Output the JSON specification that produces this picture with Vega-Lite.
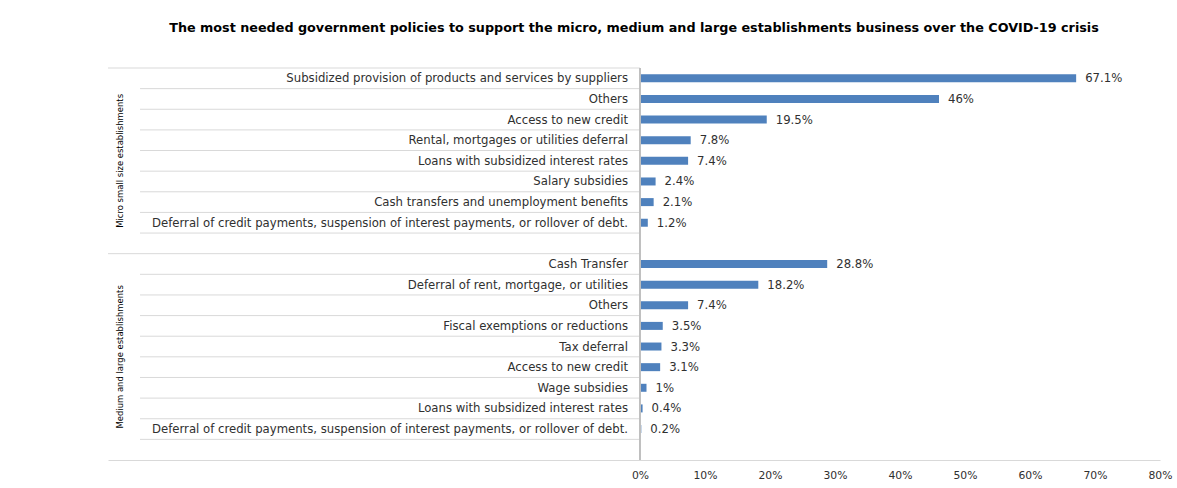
{
  "$schema": "https://vega.github.io/schema/vega-lite/v6.json",
  "width": 1052,
  "height": 392,
  "autosize": {"type": "none"},
  "padding": {"left": 108, "top": 68, "right": 17, "bottom": 28},
  "background": "white",
  "title": {
    "text": "The most needed government policies to support the micro, medium and large establishments business over the COVID-19 crisis",
    "font": "DejaVu Sans",
    "fontSize": 12.75,
    "fontWeight": "bold",
    "color": "#000000",
    "anchor": "middle",
    "offset": 33
  },
  "config": {
    "view": {"stroke": null},
    "text": {"font": "DejaVu Sans", "fontSize": 11.7, "color": "#303030"}
  },
  "data": {
    "values": [
      {"group": "Micro small size establishments", "key": "m1", "rank": 1, "label": "Subsidized provision of products and services by suppliers", "value": 0.671},
      {"group": "Micro small size establishments", "key": "m2", "rank": 2, "label": "Others", "value": 0.46},
      {"group": "Micro small size establishments", "key": "m3", "rank": 3, "label": "Access to new credit", "value": 0.195},
      {"group": "Micro small size establishments", "key": "m4", "rank": 4, "label": "Rental, mortgages or utilities deferral", "value": 0.078},
      {"group": "Micro small size establishments", "key": "m5", "rank": 5, "label": "Loans with subsidized interest rates", "value": 0.074},
      {"group": "Micro small size establishments", "key": "m6", "rank": 6, "label": "Salary subsidies", "value": 0.024},
      {"group": "Micro small size establishments", "key": "m7", "rank": 7, "label": "Cash transfers and unemployment benefits", "value": 0.021},
      {"group": "Micro small size establishments", "key": "m8", "rank": 8, "label": "Deferral of credit payments, suspension of interest payments, or rollover of debt.", "value": 0.012},
      {"group": "Medium and large establishments", "key": "l1", "rank": 1, "label": "Cash Transfer", "value": 0.288},
      {"group": "Medium and large establishments", "key": "l2", "rank": 2, "label": "Deferral of rent, mortgage, or utilities", "value": 0.182},
      {"group": "Medium and large establishments", "key": "l3", "rank": 3, "label": "Others", "value": 0.074},
      {"group": "Medium and large establishments", "key": "l4", "rank": 4, "label": "Fiscal exemptions or reductions", "value": 0.035},
      {"group": "Medium and large establishments", "key": "l5", "rank": 5, "label": "Tax deferral", "value": 0.033},
      {"group": "Medium and large establishments", "key": "l6", "rank": 6, "label": "Access to new credit", "value": 0.031},
      {"group": "Medium and large establishments", "key": "l7", "rank": 7, "label": "Wage subsidies", "value": 0.01},
      {"group": "Medium and large establishments", "key": "l8", "rank": 8, "label": "Loans with subsidized interest rates", "value": 0.004},
      {"group": "Medium and large establishments", "key": "l9", "rank": 9, "label": "Deferral of credit payments, suspension of interest payments, or rollover of debt.", "value": 0.002}
    ]
  },
  "encoding": {
    "y": {
      "field": "key",
      "type": "nominal",
      "scale": {
        "domain": ["m1","m2","m3","m4","m5","m6","m7","m8","m-","l1","l2","l3","l4","l5","l6","l7","l8","l9","l-"],
        "paddingInner": 0,
        "paddingOuter": 0
      },
      "axis": null
    }
  },
  "layer": [
    {
      "mark": {"type": "rule", "color": "#d9d9d9", "strokeWidth": 1},
      "encoding": {
        "y": {"field": "key", "type": "nominal", "bandPosition": 1},
        "x": {"datum": -0.7692, "type": "quantitative"},
        "x2": {"datum": 0}
      }
    },
    {
      "transform": [{"filter": "datum.rank == 1"}],
      "mark": {"type": "rule", "color": "#d9d9d9", "strokeWidth": 1},
      "encoding": {
        "y": {"field": "key", "type": "nominal", "bandPosition": 0},
        "x": {"datum": -0.81846, "type": "quantitative"},
        "x2": {"datum": 0}
      }
    },
    {
      "mark": {"type": "bar", "color": "#4f81bd", "height": 8},
      "encoding": {
        "x": {
          "field": "value",
          "type": "quantitative",
          "scale": {"domain": [-0.81846, 0.8], "nice": false, "zero": false},
          "axis": {
            "values": [0, 0.1, 0.2, 0.3, 0.4, 0.5, 0.6, 0.7, 0.8],
            "format": "~%",
            "title": null,
            "grid": false,
            "ticks": false,
            "labelFlush": false,
            "domainColor": "#d9d9d9",
            "labelFont": "DejaVu Sans",
            "labelFontSize": 10.8,
            "labelColor": "#303030",
            "labelPadding": 9
          }
        }
      }
    },
    {
      "mark": {"type": "rule", "color": "#bfbfbf", "strokeWidth": 1},
      "encoding": {"x": {"datum": 0, "type": "quantitative"}, "y": null}
    },
    {
      "mark": {"type": "text", "align": "right", "baseline": "middle", "dx": -12},
      "encoding": {
        "x": {"datum": 0, "type": "quantitative"},
        "text": {"field": "label"}
      }
    },
    {
      "mark": {"type": "text", "align": "left", "baseline": "middle", "dx": 9},
      "encoding": {
        "x": {"field": "value", "type": "quantitative"},
        "text": {"field": "value", "format": ".1~%"}
      }
    },
    {
      "transform": [{"filter": "datum.key == 'm5'"}],
      "mark": {"type": "text", "angle": 270, "align": "center", "baseline": "middle", "font": "DejaVu Sans Condensed", "fontSize": 9.4, "color": "#000000"},
      "encoding": {
        "x": {"datum": -0.8, "type": "quantitative"},
        "y": {"field": "key", "type": "nominal", "bandPosition": 0.5},
        "text": {"field": "group"}
      }
    },
    {
      "transform": [{"filter": "datum.key == 'l5'"}],
      "mark": {"type": "text", "angle": 270, "align": "center", "baseline": "middle", "font": "DejaVu Sans Condensed", "fontSize": 9.4, "color": "#000000"},
      "encoding": {
        "x": {"datum": -0.8, "type": "quantitative"},
        "y": {"field": "key", "type": "nominal", "bandPosition": 1},
        "text": {"field": "group"}
      }
    }
  ]
}
